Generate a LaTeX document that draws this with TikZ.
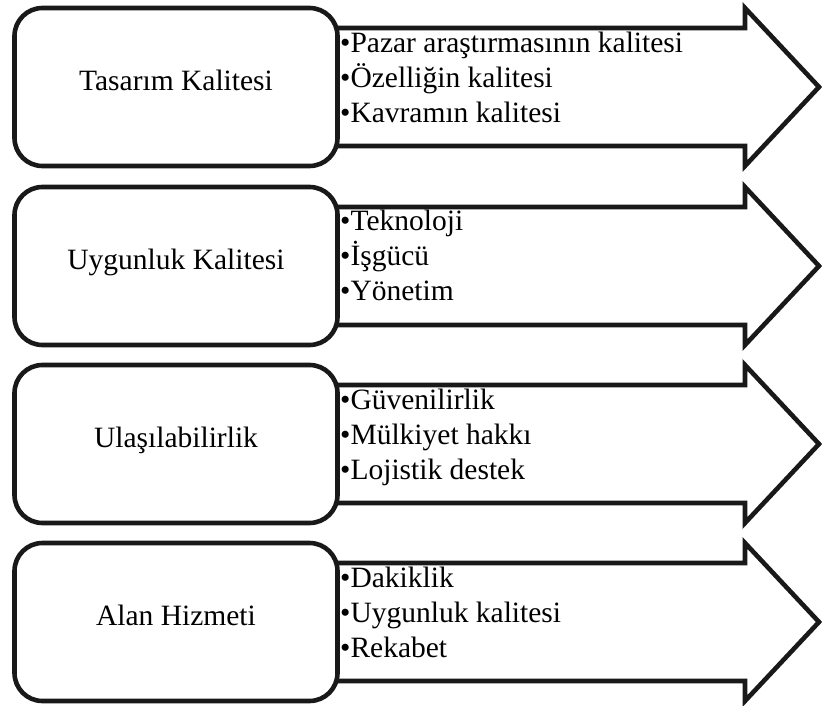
\documentclass[tikz,border=0pt]{standalone}
\usepackage{fontspec}
\setmainfont{Liberation Serif}
\begin{document}
\begin{tikzpicture}[x=1pt,y=-1pt,
  outline/.style={draw=black!90,line width=4.6pt,line join=miter,fill=white},
  titlebox/.style={outline,rounded corners=28pt,minimum width=323pt,minimum height=158pt,
    inner sep=0pt,text height=0.68em,text depth=0pt,font=\fontsize{29.5}{35}\selectfont},
  item/.style={anchor=base west,inner sep=0pt,font=\fontsize{29.5}{35}\selectfont}]
\useasboundingbox (0,0) rectangle (822,706);
% band arrows behind the title boxes
\foreach \c in {87,266,444,622}{
  \draw[outline] (336,\c-59) -- (745,\c-59) -- (745,\c-79) -- (819,\c)
    -- (745,\c+79) -- (745,\c+59) -- (336,\c+59) -- cycle;
}
% title boxes
\node[titlebox] (t1) at (176,87)  {Tasarım Kalitesi};
\node[titlebox] (t2) at (176,266) {Uygunluk Kalitesi};
\node[titlebox] (t3) at (176,444) {Ulaşılabilirlik};
\node[titlebox] (t4) at (176,622) {Alan Hizmeti};
% item lists
\node[item] (a1) at (340,87-34) {•Pazar araştırmasının kalitesi};
\node[item] (a2) at (340,87+1)  {•Özelliğin kalitesi};
\node[item] (a3) at (340,87+36) {•Kavramın kalitesi};
\node[item] (b1) at (340,266-36) {•Teknoloji};
\node[item] (b2) at (340,266-1)  {•İşgücü};
\node[item] (b3) at (340,266+34) {•Yönetim};
\node[item] (c1) at (340,444-35) {•Güvenilirlik};
\node[item] (c2) at (340,444)    {•Mülkiyet hakkı};
\node[item] (c3) at (340,444+35) {•Lojistik destek};
\node[item] (d1) at (340,622-35) {•Dakiklik};
\node[item] (d2) at (340,622)    {•Uygunluk kalitesi};
\node[item] (d3) at (340,622+35) {•Rekabet};
\end{tikzpicture}
\end{document}
